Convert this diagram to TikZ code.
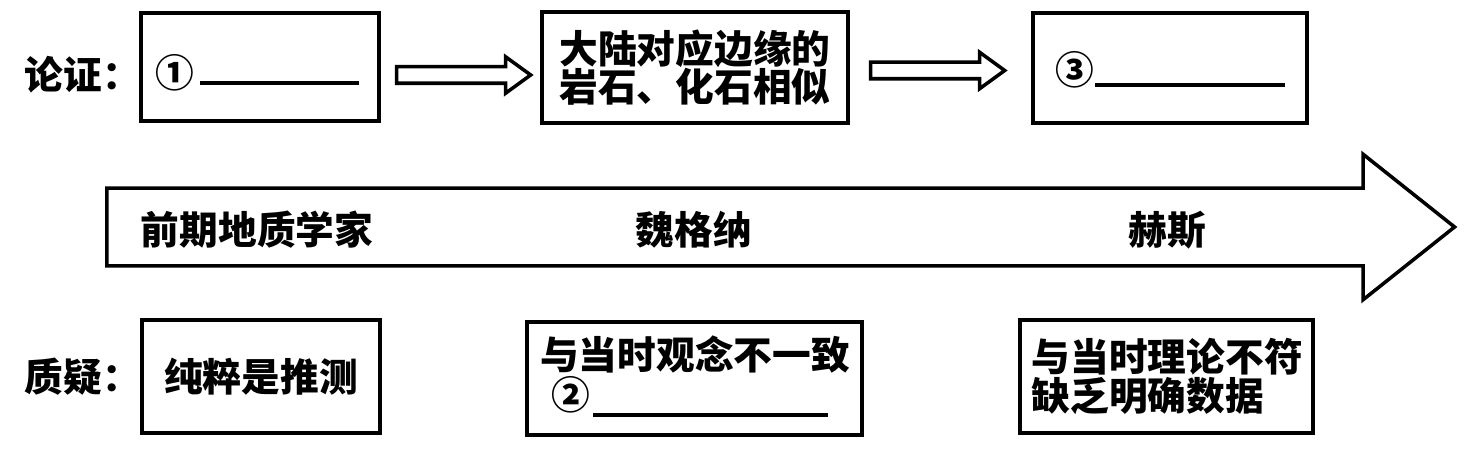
\documentclass[tikz,border=0pt]{standalone}
\usepackage{fontspec}
\setmainfont{Noto Sans CJK SC}
\usetikzlibrary{shapes.arrows,calc}

\begin{document}
\begin{tikzpicture}[x=0.01cm, y=-0.01cm, line width=1pt,
    font=\fontsize{11}{11}\selectfont\bfseries,
    kuang/.style={draw, inner sep=0pt, align=center},
    jiantou/.style={draw, single arrow, anchor=tail, inner xsep=0pt, inner ysep=0.065cm,
        minimum height=1.34cm, single arrow head extend=0.10cm, single arrow tip angle=72},
    tiankong/.style={line width=1.1pt}]
    \useasboundingbox (0,0) rectangle (1477,452);

    % 上排：论证
    \node[anchor=west, inner sep=0pt] (lunzheng) at (23,75) {论证：};

    \node[kuang, minimum width=2.38cm, minimum height=1.08cm] (b1) at (260,67) {};
    \node (n1) at (175,73) {①};
    \draw[tiankong] (200,83) -- (359,83);

    \node[kuang, minimum width=3.06cm, minimum height=1.11cm] (b2) at (695,67.5)
        {大陆对应边缘的\\岩石、化石相似};

    \node[kuang, minimum width=2.74cm, minimum height=1.10cm] (b3) at (1170,68) {};
    \node (n3) at (1075,70) {③};
    \draw[tiankong] (1095,85) -- (1285,85);

    % 空心箭头
    \node[jiantou] (a1) at ($(b1.east)+(14,8)$) {};
    \node[jiantou] (a2) at ($(b2.east)+(19,3)$) {};

    % 中间：时间轴
    \node[draw, single arrow, anchor=tail, inner xsep=0pt, inner ysep=0.37cm, minimum height=13.47cm,
        single arrow head extend=0.34cm, single arrow tip angle=77] (zhou) at (105,227) {};
    \node (t1) at (257,230) {前期地质学家};
    \node (t2) at (694,230) {魏格纳};
    \node (t3) at (1167,230) {赫斯};

    % 下排：质疑
    \node[anchor=west, inner sep=0pt] (zhiyi) at (23,377) {质疑：};

    \node[kuang, minimum width=2.38cm, minimum height=1.13cm] (b4) at (261,376.5) {纯粹是推测};

    \node[kuang, minimum width=3.35cm, minimum height=1.13cm] (b5) at (694.5,378.5) {};
    \node (q1) at (695,355) {与当时观念不一致};
    \node (n2) at (571,395) {②};
    \draw[tiankong] (593,415) -- (828,415);

    \node[kuang, minimum width=2.93cm, minimum height=1.13cm, text width=2.69cm, align=left]
        (b6) at (1166.5,376.5) {与当时理论不符\\缺乏明确数据};
\end{tikzpicture}
\end{document}
